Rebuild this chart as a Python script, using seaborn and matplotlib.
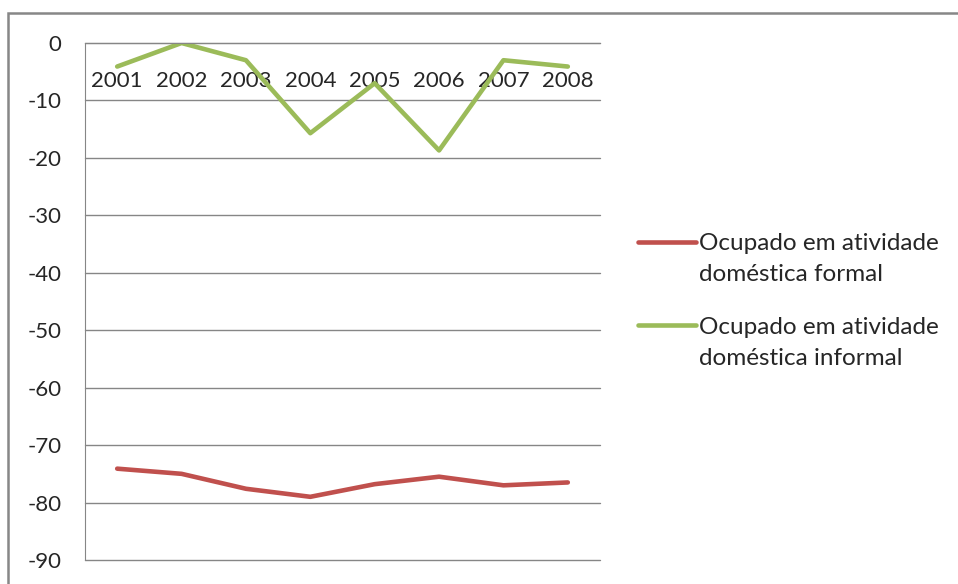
import pandas as pd
import matplotlib
matplotlib.use("Agg")
import matplotlib.pyplot as plt
from matplotlib.patches import Rectangle
import seaborn as sns

# dados
anos = [2001, 2002, 2003, 2004, 2005, 2006, 2007, 2008]
formal = [-74.1, -75.0, -77.6, -79.0, -76.8, -75.5, -77.0, -76.5]
informal = [-4.1, 0.0, -3.0, -15.7, -7.0, -18.7, -3.0, -4.1]
serie_formal = "Ocupado em atividade\ndoméstica formal"
serie_informal = "Ocupado em atividade\ndoméstica informal"
cores = ["#C0504D", "#9BBB59"]

df = pd.DataFrame({
    "ano": anos * 2,
    "valor": formal + informal,
    "serie": [serie_formal] * len(anos) + [serie_informal] * len(anos),
})

sns.set_style("white")
plt.rcParams["font.family"] = ["Lato", "DejaVu Sans"]
plt.rcParams["axes.unicode_minus"] = False

fig = plt.figure(figsize=(9.58, 5.84), dpi=100)
ax = fig.add_axes([85 / 958, 1 - 560 / 584, (600 - 85) / 958, (560 - 43) / 584])

sns.lineplot(data=df, x="ano", y="valor", hue="serie", palette=cores,
             linewidth=3.3, ax=ax, legend=False)

ax.set_xlim(2000.5, 2008.5)
ax.set_ylim(-90, 0)
ax.set_yticks(range(-90, 1, 10))
ax.set_xticks(anos)
ax.set_xticks([a - 0.5 for a in anos] + [2008.5], minor=True)
ax.set_xlabel("")
ax.set_ylabel("")

# eixo x na linha do zero, com rótulos por baixo
ax.spines["bottom"].set_position(("data", 0))
ax.spines["bottom"].set_color("#868686")
ax.spines["left"].set_color("#868686")
ax.spines["top"].set_visible(False)
ax.spines["right"].set_visible(False)
ax.tick_params(axis="x", which="major", length=0, pad=20, labelsize=16)
ax.tick_params(axis="x", which="minor", direction="in", length=5, color="#868686")
ax.tick_params(axis="y", direction="out", length=5, color="#868686", pad=12, labelsize=16)
ax.yaxis.grid(True, color="#868686", linewidth=1)
for gl in ax.get_ygridlines():
    gl.set_clip_on(False)
ax.set_axisbelow(True)
ax.set_zorder(1)

# legenda
handles = ax.get_lines()[:2]
leg = ax.legend(handles, [serie_formal, serie_informal], loc="upper left",
                bbox_to_anchor=(638 / 958, 1 - 233 / 584), bbox_transform=fig.transFigure,
                frameon=False, fontsize=17.5, handlelength=2.4, handletextpad=0.1,
                labelspacing=1.3, borderpad=0, borderaxespad=0)
for t in leg.get_texts():
    t.set_linespacing(1.6)
for col in leg._legend_handle_box.get_children():
    for item in col.get_children():
        item.align = "top"

# moldura do gráfico
fig.add_artist(Rectangle((8 / 958, -0.2), 1.2, 1.2 - 13 / 584, transform=fig.transFigure,
                         fill=False, edgecolor="#878787", linewidth=1.8, clip_on=False))

fig.savefig("out.png", dpi=100)
